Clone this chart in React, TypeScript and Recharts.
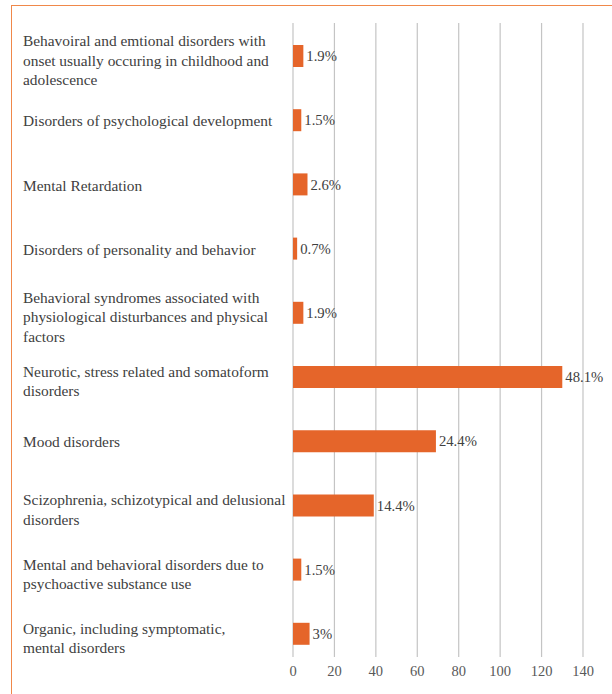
import { BarChart, Bar, XAxis, YAxis, CartesianGrid, LabelList } from 'recharts'

const categories = [
  'Behavoiral and emtional disorders with\nonset usually occuring in childhood and\nadolescence',
  'Disorders of psychological development',
  'Mental Retardation',
  'Disorders of personality and behavior',
  'Behavioral syndromes associated with\nphysiological disturbances and physical\nfactors',
  'Neurotic, stress related and somatoform\ndisorders',
  'Mood disorders',
  'Scizophrenia, schizotypical and delusional\ndisorders',
  'Mental and behavioral disorders due to\npsychoactive substance use',
  'Organic, including symptomatic,\nmental disorders',
]

const counts = [5, 4, 7, 2, 5, 130, 69, 39, 4, 8]

const percentLabels = ['1.9%', '1.5%', '2.6%', '0.7%', '1.9%', '48.1%', '24.4%', '14.4%', '1.5%', '3%']

const xTicks = [0, 20, 40, 60, 80, 100, 120, 140]

const data = categories.map((name, i) => ({ name, value: counts[i], pct: percentLabels[i] }))

const FONT = 'Liberation Serif, serif'
const TEXT = '#404040'
const ORANGE = '#E5652A'

// left-aligned, multi-line category labels like excel does
function CategoryTick(props: any) {
  const { y, payload } = props
  const lines: string[] = String(payload.value).split('\n')
  const lh = 19.4
  const shift = lines.length > 1 ? 3.5 : 0
  const startY = y + shift - ((lines.length - 1) * lh) / 2
  return (
    <text x={23} y={startY} fill={TEXT} fontSize={15.4} style={{ fontFamily: FONT }} textAnchor="start" dominantBaseline="central">
      {lines.map((l, i) => (
        <tspan key={i} x={23} dy={i === 0 ? 0 : lh}>
          {l}
        </tspan>
      ))}
    </text>
  )
}

// grid lines stop a little above the axis labels
function GridLine(props: any) {
  const { x1, x2, y1, y2 } = props
  return <line x1={x1} x2={x2} y1={y1 - 1} y2={y2 - 9} stroke="#c4c4c4" strokeWidth={1.2} />
}

export default function App() {
  return (
    <div style={{ position: 'absolute', left: 0, top: 0, width: 612, height: 694, background: '#fff', fontFamily: FONT }}>
      <div
        style={{
          position: 'absolute',
          left: 11,
          top: 5,
          width: 601,
          height: 689,
          borderTop: '1.5px solid #F0884A',
          borderLeft: '1.5px solid #F0884A',
          boxSizing: 'border-box',
        }}
      />
      <BarChart
        width={612}
        height={694}
        data={data}
        layout="vertical"
        margin={{ top: 24, right: 29, bottom: 0, left: 0 }}
        barCategoryGap={0}
        style={{ position: 'absolute', left: 0, top: 0, fontFamily: FONT }}
      >
        <CartesianGrid horizontal={false} vertical={GridLine as any} />
        <XAxis
          type="number"
          domain={[0, 140]}
          ticks={xTicks}
          axisLine={false}
          tickLine={false}
          tickSize={0}
          tickMargin={0}
          height={28}
          interval={0}
          tick={{ fill: '#595959', fontSize: 14.5, style: { fontFamily: FONT } }}
        />
        <YAxis
          type="category"
          dataKey="name"
          width={293}
          axisLine={false}
          tickLine={false}
          interval={0}
          tick={<CategoryTick />}
        />
        <Bar dataKey="value" fill={ORANGE} barSize={22} isAnimationActive={false}>
          <LabelList dataKey="pct" position="right" offset={3} fill={TEXT} fontSize={14.7} style={{ fontFamily: FONT }} />
        </Bar>
      </BarChart>
    </div>
  )
}
